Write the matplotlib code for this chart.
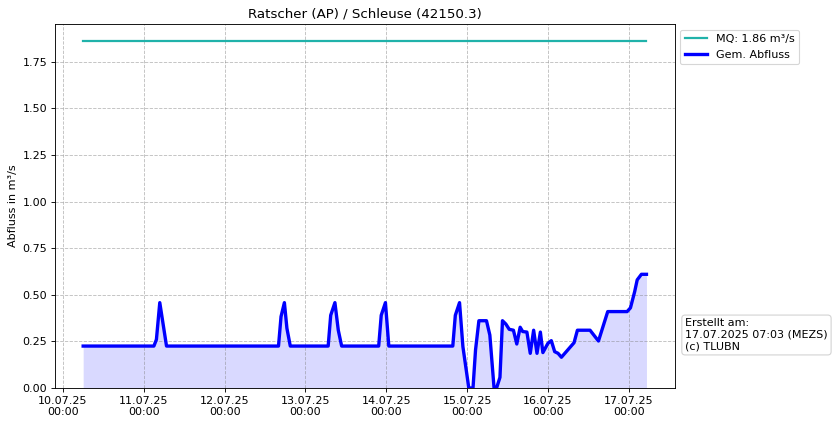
import matplotlib
matplotlib.use("Agg")
import matplotlib.pyplot as plt
import matplotlib.dates as mdates
import pandas as pd

# Messzeitpunkte und Abfluss (m³/s)
zeiten = [
    "2025-07-10 06:00", "2025-07-11 03:00", "2025-07-11 03:45", "2025-07-11 04:45", "2025-07-11 06:45",
    "2025-07-12 16:00", "2025-07-12 16:45", "2025-07-12 17:45", "2025-07-12 18:30", "2025-07-12 19:30",
    "2025-07-13 06:45", "2025-07-13 07:30", "2025-07-13 08:45", "2025-07-13 09:45", "2025-07-13 10:45",
    "2025-07-13 21:45", "2025-07-13 22:30", "2025-07-13 23:45", "2025-07-14 00:45",
    "2025-07-14 19:45", "2025-07-14 20:30", "2025-07-14 21:45", "2025-07-14 22:45",
    "2025-07-15 00:30", "2025-07-15 01:45", "2025-07-15 02:30", "2025-07-15 03:30", "2025-07-15 05:45",
    "2025-07-15 06:45", "2025-07-15 08:00", "2025-07-15 08:45", "2025-07-15 09:45", "2025-07-15 10:30",
    "2025-07-15 11:30", "2025-07-15 12:30", "2025-07-15 13:45", "2025-07-15 14:45", "2025-07-15 15:45",
    "2025-07-15 16:30", "2025-07-15 17:45", "2025-07-15 18:45", "2025-07-15 19:45", "2025-07-15 20:45",
    "2025-07-15 21:45", "2025-07-15 22:30", "2025-07-16 00:00", "2025-07-16 01:00", "2025-07-16 02:00",
    "2025-07-16 03:00", "2025-07-16 04:00", "2025-07-16 07:45", "2025-07-16 08:45", "2025-07-16 12:30",
    "2025-07-16 15:00", "2025-07-16 17:45", "2025-07-16 23:30", "2025-07-17 00:30", "2025-07-17 01:45",
    "2025-07-17 02:30", "2025-07-17 03:45", "2025-07-17 05:15",
]
abfluss = [
    0.225, 0.225, 0.26, 0.458, 0.225,
    0.225, 0.383, 0.458, 0.32, 0.225,
    0.225, 0.39, 0.458, 0.31, 0.225,
    0.225, 0.39, 0.458, 0.225,
    0.225, 0.39, 0.458, 0.222,
    0.0, 0.0, 0.204, 0.361, 0.361,
    0.284, 0.0, 0.0, 0.057, 0.361,
    0.343, 0.315, 0.31, 0.236, 0.326,
    0.303, 0.30, 0.186, 0.31, 0.186,
    0.30, 0.19, 0.24, 0.254, 0.195,
    0.186, 0.165, 0.243, 0.31, 0.31,
    0.252, 0.41, 0.41, 0.43, 0.517,
    0.58, 0.61, 0.61,
]
mq = 1.86

t = pd.to_datetime(zeiten)

fig = plt.figure(figsize=(837 / 80, 426 / 80), dpi=80)
ax = fig.add_axes([0.0657, 0.0892, 0.7403, 0.8545])

ax.plot([t[0], t[-1]], [mq, mq], color="lightseagreen", lw=2, label=f"MQ: {mq} m³/s")
ax.plot(t, abfluss, color="blue", lw=3, label="Gem. Abfluss")
ax.fill_between(t, abfluss, color="blue", alpha=0.15, lw=0)

ax.set_ylim(bottom=0)
ax.set_yticks([0, 0.25, 0.5, 0.75, 1.0, 1.25, 1.5, 1.75])
ax.xaxis.set_major_locator(mdates.DayLocator())
ax.xaxis.set_major_formatter(mdates.DateFormatter("%d.%m.%y\n%H:%M"))
ax.grid(color="gray", linestyle="--", alpha=0.5)

ax.set_title("Ratscher (AP) / Schleuse (42150.3)")
ax.set_ylabel("Abfluss in m³/s")
ax.legend(loc="upper left", bbox_to_anchor=(1.0, 1.0))
ax.text(1.017, 0.1, "Erstellt am:\n17.07.2025 07:03 (MEZS)\n(c) TLUBN", transform=ax.transAxes,
        va="bottom", ha="left",
        bbox=dict(boxstyle="round", facecolor="white", edgecolor="lightgray"))

fig.savefig("out.png", dpi=80)
